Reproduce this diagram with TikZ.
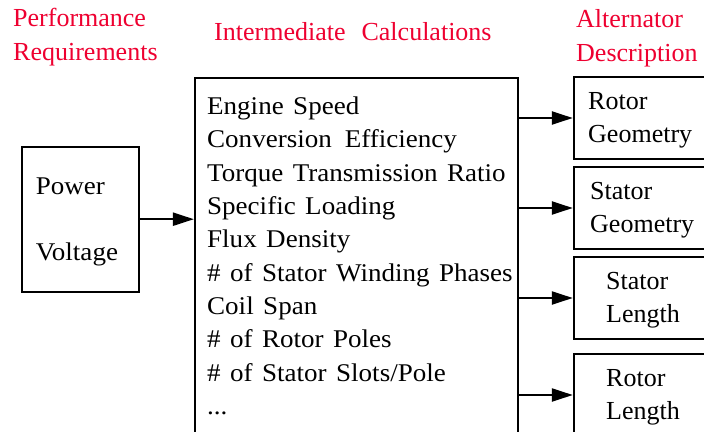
\documentclass[tikz,border=0pt]{standalone}
\usepackage{fontspec}
\setmainfont{Liberation Serif}
\newfontfamily\bodyfont{Liberation Serif}[FakeStretch=1.06,WordSpace=1.4]
\usetikzlibrary{arrows.meta}
\definecolor{hdr}{RGB}{238,0,48}
\tikzset{
  box/.style={draw=black, line width=2.4pt, minimum width=#1, inner sep=0pt},
  txt/.style={anchor=base west, inner sep=0pt, font=\fontsize{26}{30}\selectfont},
  btxt/.style={anchor=base west, inner sep=0pt, font=\bodyfont\fontsize{25.5}{30}\selectfont},
  head/.style={anchor=base west, inner sep=0pt, text=hdr, font=\fontsize{26}{30}\selectfont},
  conn/.style={line width=2.2pt, -{Triangle[length=21pt,width=13pt]}}
}
\begin{document}
\begin{tikzpicture}[x=1pt,y=-1pt]
\useasboundingbox (0,0) rectangle (704,431);
\clip (0,0) rectangle (704,431);
% headers
\node[head] (h1a) at (13,26.7) {Performance};
\node[head] (h1b) at (13,60.5) {Requirements};
\node[head] (h2) at (214,40.7) {Intermediate\hspace{16pt}Calculations};
\node[head] (h3a) at (576,27.3) {Alternator};
\node[head] (h3b) at (576,61) {Description};
% boxes
\node[box=117.3pt, minimum height=145pt] (left) at (80.4,219.2) {};
\node[box=323pt, minimum height=382pt] (mid) at (356.6,269) {};
\node[box=138pt, minimum height=82pt] (r1) at (643,118) {};
\node[box=138pt, minimum height=82pt] (r2) at (643,208) {};
\node[box=138pt, minimum height=82pt] (r3) at (643,298) {};
\node[box=138pt, minimum height=82pt] (r4) at (643,395) {};
% left text
\node[btxt] (p1) at (35.7,194.3) {Power};
\node[btxt] (p2) at (35.7,260) {Voltage};
% middle text
\node[btxt] (m1) at (207,114.3) {Engine Speed};
\node[btxt] (m2) at (207,147.6) {Conversion\hspace{13pt}Efficiency};
\node[btxt] (m3) at (207,181) {Torque Transmission Ratio};
\node[btxt] (m4) at (207,214.3) {Specific Loading};
\node[btxt] (m5) at (207,247.6) {Flux Density};
\node[btxt] (m6) at (207,281) {\# of Stator Winding Phases};
\node[btxt] (m7) at (207,314.3) {Coil Span};
\node[btxt] (m8) at (207,347.6) {\# of Rotor Poles};
\node[btxt] (m9) at (207,381) {\# of Stator Slots/Pole};
\node[btxt] (m10) at (207,414.3) {...};
% right text
\node[txt] (r1a) at (588,109.3) {Rotor};
\node[txt] (r1b) at (588,142.7) {Geometry};
\node[txt] (r2a) at (590,199.3) {Stator};
\node[txt] (r2b) at (590,232.7) {Geometry};
\node[txt] (r3a) at (606,289.3) {Stator};
\node[txt] (r3b) at (606,322.7) {Length};
\node[txt] (r4a) at (606,386.7) {Rotor};
\node[txt] (r4b) at (606,419.3) {Length};
% connectors
\draw[conn] (left.east) -- (mid.west |- left.east);
\foreach \r in {r1,r2,r3,r4}{
  \draw[conn] (mid.east |- \r.west) -- (\r.west);
}
\end{tikzpicture}
\end{document}
